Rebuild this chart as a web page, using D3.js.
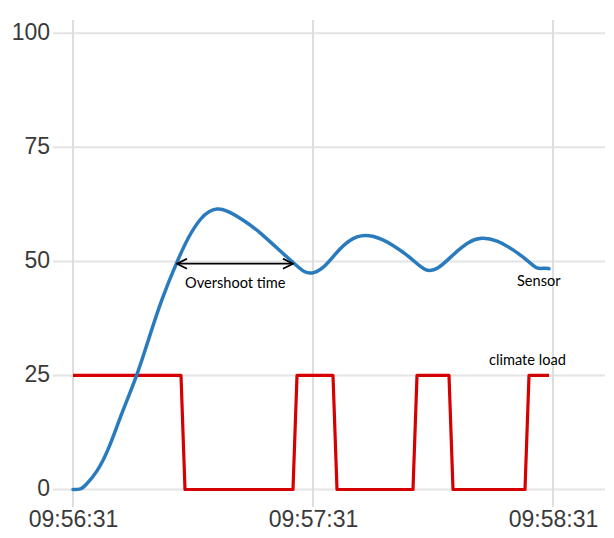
<!DOCTYPE html>
<html>
<head>
<meta charset="utf-8">
<script src="https://cdn.jsdelivr.net/npm/d3@7"></script>
<style>
  html, body { margin: 0; padding: 0; background: #fff; }
  svg { display: block; }
  .tick-label { font-family: "Liberation Sans", Arial, sans-serif; font-size: 23px; fill: #3a3a3a; }
  .note { font-family: Lato, "Open Sans", sans-serif; font-size: 14.6px; fill: #000; }
</style>
</head>
<body>
<div id="container"></div>
<script>
const startTime = "09:56:31";
const endOffset = 133; // seconds shown after start
const xTickLabels = ["09:56:31", "09:57:31", "09:58:31"];
const yTickValues = [0, 25, 50, 75, 100];

// seconds after 09:56:31
const sensorSeconds = [0, 2, 3.5, 6, 9.25, 12.5, 16, 19.25, 22.5, 26.5, 29.5, 32, 34, 36, 38.5,
  43.5, 47.5, 51.5, 55, 58.5, 60.5, 63.5, 67.5, 71.5, 75, 80, 85, 88.5, 91, 95, 99, 102, 106,
  110, 114, 116.5, 118, 119];
const sensorValues = [0, 0, 0.8, 3.7, 8.9, 16.4, 24.9, 33.2, 41.4, 50, 55.7, 59.6, 61, 61.6, 61.4,
  58.9, 56.2, 52.9, 49.8, 47.4, 47.3, 48.7, 53.3, 55.8, 55.8, 53.7, 50.4, 47.8, 48.0, 51.5, 54.4,
  55.3, 54.7, 52.6, 50.0, 48.2, 48.6, 48.4];

const loadSeconds = [0, 27, 28, 55, 56, 65, 66, 85, 86, 94, 95, 113, 114, 119];
const loadValues = [25, 25, 0, 0, 25, 25, 0, 0, 25, 25, 0, 0, 25, 25];

const overshoot = { from: 26.5, to: 55, value: 49.5 };

const W = 614, H = 538;
const parse = d3.timeParse("%H:%M:%S");
const t0 = parse(startTime);
const at = (s) => d3.timeSecond.offset(t0, s);

const setAttrs = (el, attrs) =>
  Object.entries(attrs).reduce((acc, [key, val]) => acc.attr(key, val), el);

const x = d3.scaleTime().domain([t0, at(endOffset)]).range([73, 605]);
const y = d3.scaleLinear().domain([0, 100]).range([489.5, 33.3]);

const svg = d3.select("#container").append("svg");
setAttrs(svg, { width: W, height: H, viewBox: `0 0 ${W} ${H}` });

// grid
const grid = svg.append("g");
grid.selectAll("line.h")
  .data(yTickValues)
  .join("line")
  .attr("class", "h")
  .attr("x1", 53).attr("x2", x.range()[1])
  .attr("y1", (d) => y(d)).attr("y2", (d) => y(d))
  .attr("stroke", "#e4e4e4").attr("stroke-width", 2);

const xTicks = xTickLabels.map(parse);
grid.selectAll("line.v")
  .data(xTicks)
  .join("line")
  .attr("class", "v")
  .attr("x1", (d) => x(d)).attr("x2", (d) => x(d))
  .attr("y1", 20).attr("y2", 507)
  .attr("stroke", "#dedede").attr("stroke-width", 2);

// axes (labels only, lines come from grid)
const yAxis = svg.append("g")
  .attr("transform", "translate(73,0)")
  .call(d3.axisLeft(y).tickValues(yTickValues).tickSize(0).tickPadding(23));
yAxis.select(".domain").remove();
yAxis.selectAll("text").attr("class", "tick-label").attr("dy", "0.28em").attr("font-size", null).attr("font-family", null);

const xAxis = svg.append("g")
  .attr("transform", "translate(0,507)")
  .call(d3.axisBottom(x).tickValues(xTicks).tickSize(0).tickPadding(4)
    .tickFormat(d3.timeFormat("%H:%M:%S")));
xAxis.select(".domain").remove();
xAxis.selectAll("text").attr("class", "tick-label").attr("font-size", null).attr("font-family", null);
svg.selectAll(".tick-label").attr("fill", null);

// series
const line = d3.line()
  .x((d) => x(at(d[0])))
  .y((d) => y(d[1]));

svg.append("path")
  .datum(loadSeconds.map((s, i) => [s, loadValues[i]]))
  .attr("d", line.curve(d3.curveLinear))
  .attr("fill", "none")
  .attr("stroke", "#d50000")
  .attr("stroke-width", 3.2)
  .attr("stroke-linejoin", "round");

svg.append("path")
  .datum(sensorSeconds.map((s, i) => [s, sensorValues[i]]))
  .attr("d", line.curve(d3.curveBasis))
  .attr("fill", "none")
  .attr("stroke", "#2a7bbd")
  .attr("stroke-width", 3.5)
  .attr("stroke-linejoin", "round")
  .attr("stroke-linecap", "round");

// overshoot arrow
const defs = svg.append("defs");
const marker = defs.append("marker");
setAttrs(marker, {
  id: "head", viewBox: "0 0 12 12", refX: 11, refY: 6,
  markerWidth: 12, markerHeight: 12, markerUnits: "userSpaceOnUse", orient: "auto-start-reverse"
});
setAttrs(marker.append("path"), {
  d: "M1,1L11,6L1,11", fill: "none", stroke: "#000", "stroke-width": 1.8
});

const ay = y(overshoot.value);
setAttrs(svg.append("line"), {
  x1: x(at(overshoot.from)), x2: x(at(overshoot.to)), y1: ay, y2: ay,
  stroke: "#000", "stroke-width": 1.8,
  "marker-start": "url(#head)", "marker-end": "url(#head)"
});

svg.append("text").attr("class", "note")
  .attr("x", x(at(28.5))).attr("y", ay + 24)
  .text("Overshoot time");

svg.append("text").attr("class", "note")
  .attr("x", x(at(111))).attr("y", y(45.7) + 5)
  .text("Sensor");

svg.append("text").attr("class", "note")
  .attr("x", x(at(104.7))).attr("y", y(28.4) + 5)
  .text("climate load");
</script>
</body>
</html>
